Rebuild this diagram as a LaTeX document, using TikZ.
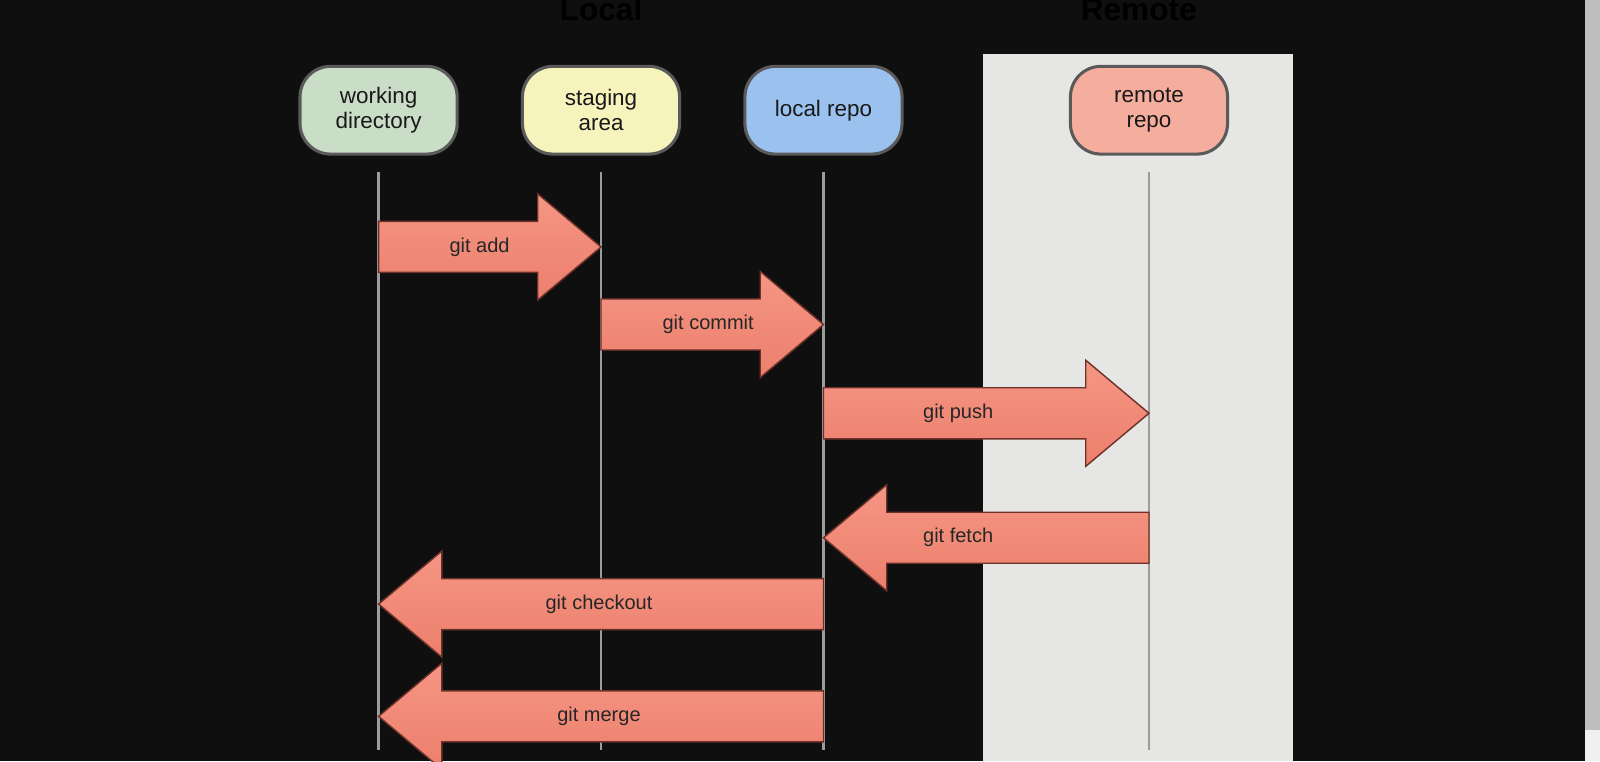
\documentclass[tikz,border=0pt]{standalone}
\usepackage{fontspec}
\setmainfont{Liberation Sans}
\usetikzlibrary{calc}
\definecolor{bg}{HTML}{0F0F0F}
\definecolor{panel}{HTML}{E6E6E4}
\definecolor{strip}{HTML}{BEBEBE}
\definecolor{boxline}{HTML}{5A5A5A}
\definecolor{lifeline}{HTML}{9C9C9C}
\definecolor{wdfill}{HTML}{CADDC7}
\definecolor{safill}{HTML}{F6F3BC}
\definecolor{lrfill}{HTML}{9BC2EE}
\definecolor{rrfill}{HTML}{F5AE9E}
\definecolor{arrowtop}{HTML}{F59684}
\definecolor{arrowbot}{HTML}{EC7F6C}
\definecolor{arrowline}{HTML}{6E3129}
\tikzset{box/.style = {draw = boxline, line width = 1.5pt, rounded corners = 15pt, minimum width = 77pt, minimum height = 43pt, align = center, text = black!90, font = \fontsize{11}{12.5}\selectfont}}
\tikzset{life/.style = {draw = lifeline, line width = 1.4pt}}
\tikzset{fat/.style = {draw = arrowline, line width = .7pt, top color = arrowtop, bottom color = arrowbot,
    to path = {let \p1 = (\tikztostart), \p2 = (\tikztotarget), \p3 = ($(\tikztotarget)!31pt!(\tikztostart)$) in
      (\x1, \y1 + 12.5pt) -- (\x3, \y1 + 12.5pt) -- (\x3, \y1 + 26pt) -- (\p2)
      -- (\x3, \y1 - 26pt) -- (\x3, \y1 - 12.5pt) -- (\x1, \y1 - 12.5pt) -- cycle}}}
\tikzset{lbl/.style = {text = black!85, font = \fontsize{9.8}{12}\selectfont}}
\tikzset{title/.style = {anchor = base, text = black, font = \bfseries\fontsize{15.5}{18}\selectfont}}

\begin{document}
\begin{tikzpicture}[x = 0.5pt, y = -0.5pt]
    \useasboundingbox (0, 0) rectangle (1568, 746);
    \fill [bg] (0, 0) rectangle (1568, 746);
    \fill [panel] (963, 53) rectangle (1267, 746);
    \fill [strip] (1553, 0) rectangle (1568, 715);
    \fill [black!6] (1553, 715) rectangle (1568, 746);

    \node [title] (local) at (589, 20) {Local};
    \node [title] (remote) at (1116, 20) {Remote};

    \node [box, fill = wdfill] (wd) at (371, 108) {working\\directory};
    \node [box, fill = safill] (sa) at (589, 108) {staging\\area};
    \node [box, fill = lrfill] (lr) at (807, 108) {local repo};
    \node [box, fill = rrfill] (rr) at (1126, 108) {remote\\repo};

    \foreach \n in {wd, sa, lr, rr} {
      \path (\n) ++(0, 627) coordinate (\n-end);
      \draw [life] ([yshift = -8pt] \n.south) -- (\n-end);
    }

    \foreach \s/\t/\y/\txt/\lx in {wd/sa/242/git add/470, sa/lr/318/git commit/694,
        lr/rr/405/git push/939, rr/lr/527/git fetch/939,
        lr/wd/592/git checkout/587, lr/wd/702/git merge/587} {
      \path (\s) ++(0, \y - 108) coordinate (from);
      \path (\t) ++(0, \y - 108) coordinate (to);
      \draw [fat] (from) to (to);
      \node [lbl] at (\lx, \y) {\txt};
    }
  \end{tikzpicture}
\end{document}
